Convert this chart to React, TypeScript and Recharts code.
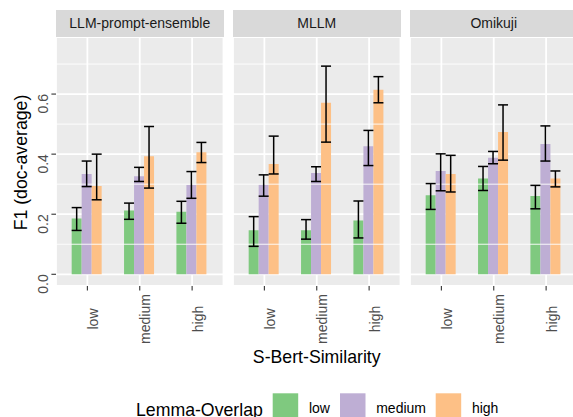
import React from 'react';
import { BarChart, Bar, XAxis, YAxis, CartesianGrid, ErrorBar, ReferenceLine } from 'recharts';

const sbertLevels = ['low', 'medium', 'high'];
const lemmaLevels = ['low', 'medium', 'high'];
const lemmaColors = ['#7FC97F', '#BEAED4', '#FDC086'];
const models = ['LLM-prompt-ensemble', 'MLLM', 'Omikuji'];

// mean F1 per S-Bert level (low, medium, high), one array per lemma-overlap level
const llmLow = [0.186, 0.212, 0.208];
const llmMedium = [0.334, 0.326, 0.297];
const llmHigh = [0.294, 0.393, 0.406];
const llmLowCI = [[0.146, 0.222], [0.183, 0.237], [0.170, 0.243]];
const llmMediumCI = [[0.292, 0.377], [0.309, 0.356], [0.253, 0.342]];
const llmHighCI = [[0.248, 0.400], [0.287, 0.492], [0.372, 0.439]];

const mllmLow = [0.147, 0.147, 0.179];
const mllmMedium = [0.298, 0.337, 0.426];
const mllmHigh = [0.367, 0.571, 0.614];
const mllmLowCI = [[0.093, 0.192], [0.117, 0.182], [0.121, 0.244]];
const mllmMediumCI = [[0.260, 0.331], [0.309, 0.358], [0.362, 0.479]];
const mllmHighCI = [[0.334, 0.460], [0.440, 0.693], [0.571, 0.658]];

const omiLow = [0.263, 0.319, 0.261];
const omiMedium = [0.344, 0.388, 0.434];
const omiHigh = [0.334, 0.474, 0.319];
const omiLowCI = [[0.216, 0.302], [0.279, 0.359], [0.218, 0.296]];
const omiMediumCI = [[0.278, 0.401], [0.368, 0.409], [0.377, 0.494]];
const omiHighCI = [[0.274, 0.396], [0.380, 0.564], [0.291, 0.344]];

const yTicks = [0, 0.2, 0.4, 0.6];
const yMinor = [0.1, 0.3, 0.5, 0.7];

// layout (px)
const W = 573;
const H = 417;
const PLOT_TOP = 37;
const PLOT_BOTTOM = 286;
const LEFT = 56;
const PANEL_W = 167.5;
const STEP = 177;
const X_AXIS_H = 60;
const FONT = '"Liberation Sans", Arial, Helvetica, sans-serif';
const legendKeyX = [272.7, 340, 435.7];

const makeRows = (vals: number[][], cis: number[][][]) =>
    sbertLevels.map((s, i) => {
        const row: any = { sbert: s };
        lemmaLevels.forEach((l, j) => {
            const v = vals[j][i];
            row[l] = v;
            row[l + 'Err'] = [v - cis[j][i][0], cis[j][i][1] - v];
        });
        return row;
    });

const panelData = [
    makeRows([llmLow, llmMedium, llmHigh], [llmLowCI, llmMediumCI, llmHighCI]),
    makeRows([mllmLow, mllmMedium, mllmHigh], [mllmLowCI, mllmMediumCI, mllmHighCI]),
    makeRows([omiLow, omiMedium, omiHigh], [omiLowCI, omiMediumCI, omiHighCI]),
];

const XTick = (props: any) => {
    const { x, payload } = props;
    return (
        <text transform={`translate(${x},319) rotate(-90)`} textAnchor="middle" dy="0.76em"
            fontSize={14} fill="#4d4d4d" fontFamily={FONT}>
            {payload.value}
        </text>
    );
};

const YTick = (props: any) => {
    const { y, payload } = props;
    return (
        <text transform={`translate(48,${y}) rotate(-90)`} textAnchor="end"
            fontSize={14} fill="#4d4d4d" fontFamily={FONT}>
            {Number(payload.value).toFixed(1)}
        </text>
    );
};

const LegendBox = () => (
    <svg width={W} height={H} style={{ position: 'absolute', left: 0, top: 0, overflow: 'visible' }}>
        <text x={136} y={415.7} fontSize={17.7} fill="#000" fontFamily={FONT}>Lemma-Overlap</text>
        {lemmaLevels.map((l, k) => (
            <g key={l}>
                <rect x={legendKeyX[k]} y={393.3} width={25.5} height={25.5} fill={lemmaColors[k]} />
                <text x={legendKeyX[k] + 36.2} y={413.3} fontSize={14} fill="#000" fontFamily={FONT}>{l}</text>
            </g>
        ))}
    </svg>
);

const Panel = ({ index }: { index: number }) => {
    const first = index === 0;
    return (
        <div style={{ position: 'absolute', left: STEP * index, top: 0 }}>
            <BarChart
                width={LEFT + PANEL_W}
                height={H}
                data={panelData[index]}
                margin={{ top: PLOT_TOP, right: 0, bottom: H - PLOT_BOTTOM - X_AXIS_H, left: first ? 0 : LEFT }}
                barCategoryGap="20%"
                barGap={0}
            >
                <CartesianGrid fill="#ebebeb" stroke="#ffffff" strokeWidth={1.8} />
                {yMinor.map((v) => (
                    <ReferenceLine key={v} y={v} stroke="#ffffff" strokeWidth={0.9} />
                ))}
                <XAxis
                    dataKey="sbert"
                    height={X_AXIS_H}
                    padding={{ left: 5.2, right: 5.2 }}
                    axisLine={false}
                    tickSize={4.6}
                    tickLine={{ stroke: '#333333', strokeWidth: 1.1 }}
                    tick={<XTick />}
                    interval={0}
                    label={index === 1 ? {
                        content: (p: any) => {
                            const vb = p.viewBox || { x: LEFT, width: PANEL_W };
                            return (
                                <text x={vb.x + vb.width / 2} y={363} textAnchor="middle" fontSize={17.7}
                                    fill="#000" fontFamily={FONT}>S-Bert-Similarity</text>
                            );
                        },
                    } : undefined}
                />
                <YAxis
                    type="number"
                    domain={[-0.039, 0.79]}
                    allowDataOverflow
                    ticks={yTicks}
                    hide={!first}
                    width={LEFT}
                    axisLine={false}
                    tickSize={4.6}
                    tickLine={{ stroke: '#333333', strokeWidth: 1.1 }}
                    tick={<YTick />}
                    label={first ? {
                        content: (p: any) => {
                            const vb = p.viewBox || { y: PLOT_TOP, height: PLOT_BOTTOM - PLOT_TOP };
                            return (
                                <text transform={`translate(27,${vb.y + vb.height / 2 + 1}) rotate(-90)`} textAnchor="middle"
                                    fontSize={17.7} fill="#000" fontFamily={FONT}>F1 (doc-average)</text>
                            );
                        },
                    } : undefined}
                />
                {lemmaLevels.map((l, j) => (
                    <Bar key={l} dataKey={l} name={l} fill={lemmaColors[j]} isAnimationActive={false}>
                        <ErrorBar dataKey={l + 'Err'} width={5} stroke="#000000" strokeWidth={1.5} direction="y" isAnimationActive={false} />
                    </Bar>
                ))}
            </BarChart>
            <div style={{
                position: 'absolute', left: LEFT, top: 10, width: PANEL_W, height: PLOT_TOP - 10,
                background: '#d9d9d9', color: '#1a1a1a', fontSize: 14, lineHeight: `${PLOT_TOP - 10}px`,
                textAlign: 'center', fontFamily: FONT,
            }}>
                {models[index]}
            </div>
        </div>
    );
};

export default function App() {
    return (
        <div style={{ position: 'fixed', left: 0, top: 0, width: W, height: H, overflow: 'hidden', background: '#fff', fontFamily: FONT }}>
            {models.map((m, i) => (
                <Panel key={m} index={i} />
            ))}
            <LegendBox />
        </div>
    );
}
